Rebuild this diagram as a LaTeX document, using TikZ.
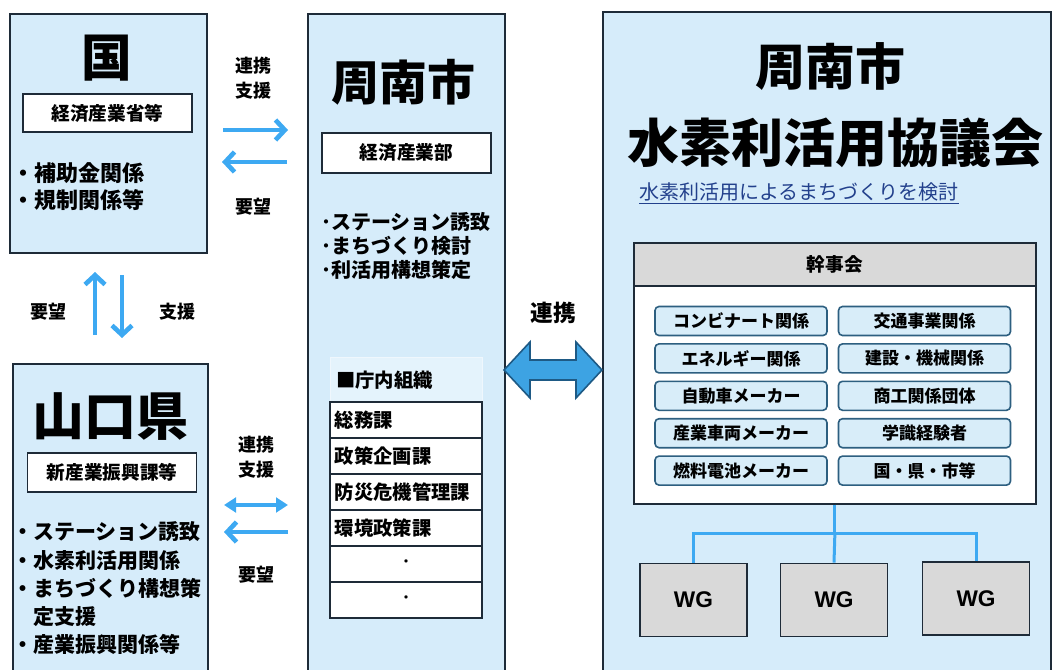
\documentclass[tikz,border=0pt]{standalone}
\usepackage{fontspec}
\newfontfamily\jp{Noto Sans CJK JP}
\newfontfamily\wgfont{Liberation Sans}
\usepackage{xcolor}
\definecolor{panelblue}{HTML}{D6ECFA}
\definecolor{edgedark}{HTML}{1E2B38}
\definecolor{flowblue}{HTML}{3DA9F2}
\definecolor{linkblue}{HTML}{3DA3E3}
\definecolor{linkedge}{HTML}{1E5A85}
\definecolor{memberfill}{HTML}{D8EDF9}
\definecolor{memberedge}{HTML}{2D5F80}
\definecolor{headgray}{HTML}{D9D9D9}
\definecolor{subtitleblue}{HTML}{22408C}
\usetikzlibrary{arrows.meta}
\newcommand{\pxu}{0.75pt}

\begin{document}
\begin{tikzpicture}[x=0.75pt, y=-0.75pt,
        panel/.style={draw=edgedark, fill=panelblue, line width=1.5pt, anchor=north west, inner sep=0pt},
        subbox/.style={draw=edgedark, fill=white, line width=1.1pt, minimum width=169*\pxu, minimum height=38*\pxu, inner sep=0pt, font=\jp\bfseries\fontsize{14}{16}\selectfont},
        bigtitle/.style={inner sep=0pt, font=\jp\bfseries\fontsize{#1}{#1}\selectfont},
        items/.style n args={2}{anchor=north west, inner sep=0pt, align=left, font=\jp\bfseries\fontsize{#1}{#2}\selectfont},
        lbl/.style={inner sep=0pt, align=center, font=\jp\bfseries\fontsize{13.5}{18.75}\selectfont},
        flow/.style={draw=flowblue, line width=3.5pt, -{Straight Barb[length=7pt, width=15pt]}},
        twoway/.style={draw=flowblue, line width=3pt, {Triangle[length=9pt, width=11pt]}-{Triangle[length=9pt, width=11pt]}},
        bigarrow/.style={draw=linkedge, fill=linkblue, line width=1.2pt, line join=miter},
        orgrow/.style={draw=edgedark, fill=white, line width=1pt, minimum width=152*\pxu, minimum height=36*\pxu, inner sep=0pt},
        rowtext/.style={inner sep=0pt, font=\jp\bfseries\fontsize{14.5}{14.5}\selectfont},
        member/.style={draw=memberedge, fill=memberfill, line width=1.2pt, rounded corners=3pt, minimum width=172*\pxu, minimum height=29*\pxu, inner sep=0pt, font=\jp\bfseries\fontsize{12.75}{12.75}\selectfont},
        wg/.style={draw=edgedark, fill=headgray, line width=1.3pt, minimum width=107*\pxu, minimum height=73*\pxu, inner sep=0pt, font=\wgfont\bfseries\fontsize{17}{17}\selectfont},
        tree/.style={draw=flowblue, line width=2.25pt}
    ]
        \useasboundingbox (0,0) rectangle (1052,670);
        \clip (0,0) rectangle (1052,670);

        % Panels
        \node[panel, minimum width=197*\pxu, minimum height=239*\pxu] (kuni) at (9,13) {};
        \node[panel, minimum width=195*\pxu, minimum height=320*\pxu] (ken) at (12,363) {};
        \node[panel, minimum width=197*\pxu, minimum height=670*\pxu] (shunan) at (307,13) {};
        \node[panel, minimum width=448*\pxu, minimum height=670*\pxu] (council) at (602,11) {};

        % Kuni
        \node[bigtitle=38] (kunititle) at (107,58) {国};
        \node[subbox] (kunisub) at (107.5,113) {経済産業省等};
        \node[items={16.5}{20.25}] (kunilist) at (12,162) {・補助金関係\\・規制関係等};

        % Yamaguchi
        \node[bigtitle=39] (kentitle) at (110,417) {山口県};
        \node[subbox, minimum height=39*\pxu] (kensub) at (112,472.5) {新産業振興課等};
        \node[items={15.75}{21.2}] (kenlist) at (12,521.5) {・ステーション誘致\\・水素利活用関係\\・まちづくり構想策\\\phantom{・}定支援\\・産業振興関係等};

        % Shunan city
        \node[bigtitle=36] (shunantitle) at (403,82) {周南市};
        \node[subbox, minimum height=40*\pxu] (shunansub) at (406.5,153) {経済産業部};
        \node[items={15}{18}] (shunanlist) at (321,212) {･ステーション誘致\\･まちづくり検討\\･利活用構想策定};

        % In-house organisation
        \node[draw=white!60!panelblue, fill=white!35!panelblue, line width=0.8pt, minimum width=152*\pxu, minimum height=45*\pxu, anchor=north west, inner sep=0pt] (orgtop) at (330,357) {};
        \node[rowtext, anchor=west] (orglabel) at (336,380) {■庁内組織};
        \foreach \i in {1,...,6}
            \node[orgrow] (row\i) at ({406},{420+36*(\i-1)}) {};
        \foreach \dept [count=\i] in {総務課,政策企画課,防災危機管理課,環境政策課}
            \node[rowtext, anchor=west] (dept\i) at ([xshift=4pt]row\i.west) {\dept};
        \node[rowtext, font=\jp\fontsize{12}{12}\selectfont] (dot1) at (row5) {・};
        \node[rowtext, font=\jp\fontsize{12}{12}\selectfont] (dot2) at (row6) {・};

        % Council
        \node[bigtitle=37.5] (counciltitle) at (830,67) {周南市};
        \node[bigtitle=39] (councilname) at (835,143) {水素利活用協議会};
        \node[inner sep=0pt, text=subtitleblue, font=\jp\fontsize{15}{15}\selectfont] (councilaim) at (799,193) {\underline{水素利活用によるまちづくりを検討}};

        % Secretariat
        \node[draw=edgedark, fill=white, line width=1.3pt, anchor=north west, minimum width=402*\pxu, minimum height=218*\pxu, inner sep=0pt] (kanjibody) at (633,285) {};
        \node[draw=edgedark, fill=headgray, line width=1.3pt, anchor=north west, minimum width=402*\pxu, minimum height=43*\pxu, inner sep=0pt, font=\jp\bfseries\fontsize{14}{14}\selectfont] (kanjihead) at (633,242) {幹事会};
        \foreach \lname/\rname [count=\i] in {コンビナート関係/交通事業関係,
                                             エネルギー関係/建設・機械関係,
                                             自動車メーカー/商工関係団体,
                                             産業車両メーカー/学識経験者,
                                             燃料電池メーカー/国・県・市等} {
            \node[member] (mleft\i) at ({741},{321+37.4*(\i-1)}) {\lname};
            \node[member] (mright\i) at ({924.5},{321+37.4*(\i-1)}) {\rname};
        }

        % Working groups
        \node[wg] (wg1) at (693.5,600) {WG};
        \node[wg] (wg2) at (834,600) {WG};
        \node[wg] (wg3) at (976,598.5) {WG};
        \draw[tree] (kanjibody.south) -- ++(0,29) coordinate (hub);
        \draw[tree] (wg1.north) |- (hub) -| (wg3.north);
        \draw[tree] (hub) -- (wg2.north);

        % Labels
        \node[lbl] (lbl1) at (253,78) {連携\\支援};
        \node[lbl] (lbl2) at (253,207) {要望};
        \node[lbl] (lbl3) at (48,312) {要望};
        \node[lbl] (lbl4) at (177,312) {支援};
        \node[lbl] (lbl5) at (256,457) {連携\\支援};
        \node[lbl] (lbl6) at (256,575) {要望};
        \node[lbl, font=\jp\bfseries\fontsize{17}{17}\selectfont] (linklabel) at (553,313) {連携};

        % Arrow ends
        \coordinate (ks1) at (223,130); \coordinate (ks2) at (288,130);
        \coordinate (sk1) at (287,162); \coordinate (sk2) at (222,162);
        \coordinate (kp1) at (95,335);  \coordinate (kp2) at (95,272);
        \coordinate (pk1) at (122,275); \coordinate (pk2) at (122,338);
        \coordinate (ys1) at (224,505); \coordinate (ys2) at (288,505);
        \coordinate (sy1) at (288,532); \coordinate (sy2) at (224,532);

        % Arrows
        \draw[flow] (ks1) -- (ks2);
        \draw[flow] (sk1) -- (sk2);
        \draw[flow] (kp1) -- (kp2);
        \draw[flow] (pk1) -- (pk2);
        \draw[twoway] (ys1) -- (ys2);
        \draw[flow] (sy1) -- (sy2);
        \draw[bigarrow] (504,370) -- ++(26,-28) -- ++(0,18) -- ++(46,0) -- ++(0,-18) -- ++(26,28)
            -- ++(-26,28) -- ++(0,-18) -- ++(-46,0) -- ++(0,18) -- cycle;

    \end{tikzpicture}
\end{document}
